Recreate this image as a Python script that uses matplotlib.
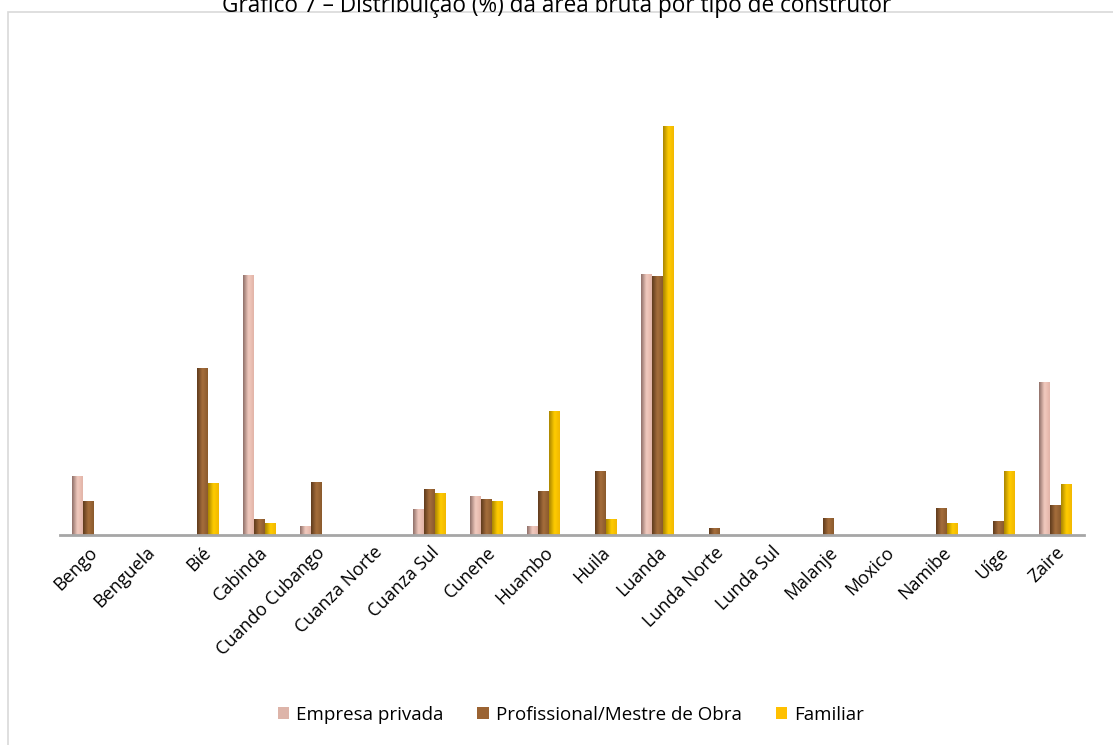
import matplotlib
matplotlib.use("Agg")

import numpy as np
import matplotlib.pyplot as plt
from matplotlib.patches import Rectangle
from matplotlib.colors import LinearSegmentedColormap

# ── data (% of gross area per province, by builder type) ──
provincias = [
    "Bengo", "Benguela", "Bié", "Cabinda", "Cuando Cubango", "Cuanza Norte",
    "Cuanza Sul", "Cunene", "Huambo", "Huila", "Luanda", "Lunda Norte",
    "Lunda Sul", "Malanje", "Moxico", "Namibe", "Uíge", "Zaire",
]
empresa_privada = [7.2, 0, 0, 32.0, 1.1, 0, 3.1, 4.7, 1.0, 0, 32.2, 0, 0, 0, 0, 0, 0, 18.8]
profissional = [4.1, 0, 20.6, 1.9, 6.5, 0, 5.6, 4.4, 5.4, 7.8, 31.9, 0.8, 0, 2.0, 0, 3.3, 1.7, 3.6]
familiar = [0, 0, 6.3, 1.4, 0, 0, 5.1, 4.1, 15.3, 1.9, 50.4, 0, 0, 0, 0, 1.4, 7.9, 6.2]

series = [
    ("Empresa privada", empresa_privada, "#DDB4A9", ["#8E6E68", "#F2CBBF", "#E2B4A8"]),
    ("Profissional/Mestre de Obra", profissional, "#9B6332", ["#5E3A1C", "#A66E3C", "#8A5A2C"]),
    ("Familiar", familiar, "#FFC000", ["#A88400", "#FFCC00", "#F2B800"]),
]

plt.rcParams["font.family"] = ["Open Sans", "DejaVu Sans"]

W, H = 1113, 745
fig = plt.figure(figsize=(W / 100, H / 100), dpi=100)

# outer chart border
fig.add_artist(Rectangle((8 / W, -0.01), 1.02, (H - 12) / H + 0.01,
                         transform=fig.transFigure, fill=False,
                         edgecolor="#D9D9D9", linewidth=1.2))

ax = fig.add_axes([60 / W, (H - 535) / H, 1024 / W, 486 / H])

x = np.arange(len(provincias))
bw = 0.193
for i, (name, vals, col, grad) in enumerate(series):
    bars = ax.bar(x + (i - 1) * bw, vals, bw, color=col, label=name, zorder=2)
    cmap = LinearSegmentedColormap.from_list(name, grad)
    g = np.linspace(0, 1, 64).reshape(1, -1)
    for b in bars:
        if b.get_height() <= 0:
            continue
        x0 = b.get_x()
        ax.imshow(g, cmap=cmap, aspect="auto", zorder=3, interpolation="bicubic",
                  extent=(x0, x0 + b.get_width(), 0, b.get_height()))

ax.set_xlim(-0.5, len(provincias) - 0.5)
ax.set_ylim(0, 60)

for s in ["top", "left", "right"]:
    ax.spines[s].set_visible(False)
ax.spines["bottom"].set_color("#A6A6A6")
ax.spines["bottom"].set_linewidth(2)
ax.spines["bottom"].set_zorder(4)
ax.set_yticks([])
ax.set_xticks(x)
ax.set_xticklabels(provincias, rotation=45, ha="right", rotation_mode="anchor",
                   fontsize=13)
ax.tick_params(axis="x", length=0, pad=6)

fig.text(0.5, (H - 12) / H, "Gráfico 7 – Distribuição (%) da área bruta por tipo de construtor",
         ha="center", va="baseline", fontsize=16.3)

fig.legend(loc="center", bbox_to_anchor=(0.513, (H - 715) / H), ncol=3, frameon=False,
           fontsize=13.5, handlelength=0.6, handleheight=0.6, handletextpad=0.4,
           columnspacing=1.8)

plt.savefig("out.png", dpi=100)
